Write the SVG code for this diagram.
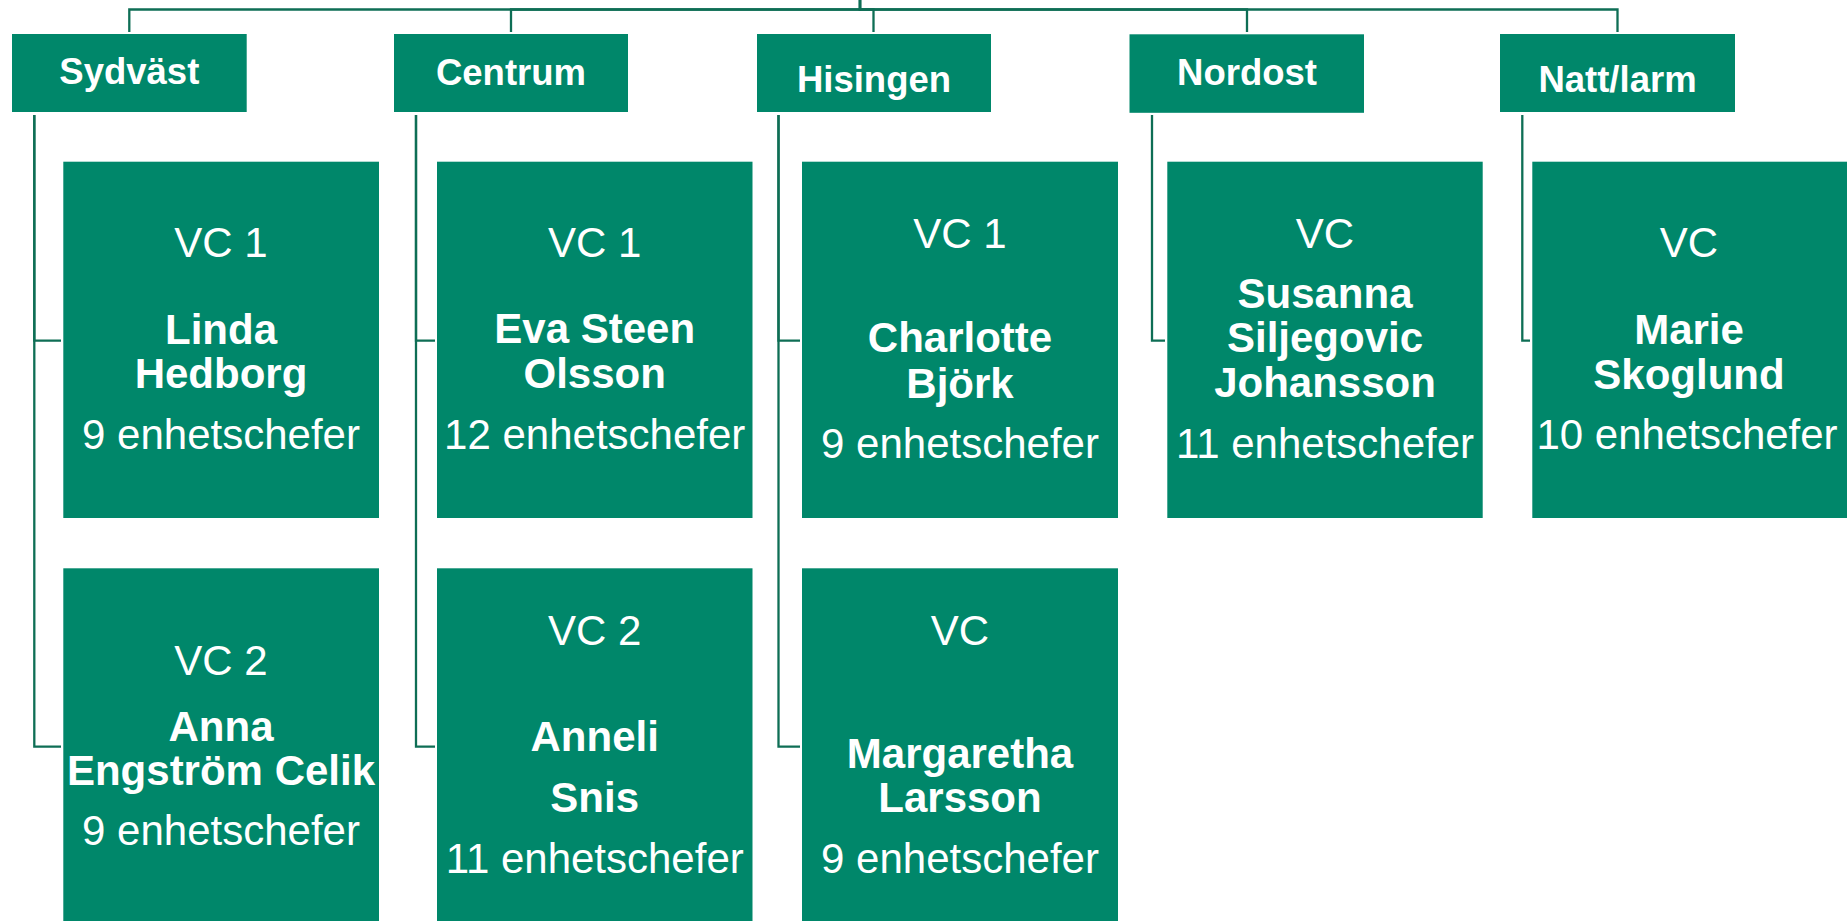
<svg xmlns="http://www.w3.org/2000/svg" width="1847" height="921" viewBox="0 0 1847 921">
<style>
.box{fill:#00876A;}
.ln{fill:none;stroke:#0E6E55;stroke-width:2.3;}
.hd{font-family:"Liberation Sans",Arial,sans-serif;font-weight:bold;font-size:36.5px;fill:#fff;text-anchor:middle;}
.rg{font-family:"Liberation Sans",Arial,sans-serif;font-size:42px;fill:#fff;text-anchor:middle;}
.bd{font-family:"Liberation Sans",Arial,sans-serif;font-weight:bold;font-size:42px;fill:#fff;text-anchor:middle;}
</style>
<rect width="1847" height="921" fill="#fff"/>
<g id="connectors">
<path class="ln" d="M860,0 V9.5 H129.3 V32"/>
<path class="ln" d="M860,0 V9.5 H511 V32"/>
<path class="ln" d="M860,0 V9.5 H873.5 V32"/>
<path class="ln" d="M860,0 V9.5 H1247 V32"/>
<path class="ln" d="M860,0 V9.5 H1617.5 V32"/>
<path class="ln" d="M34.3,115 V340.7 H61"/>
<path class="ln" d="M34.3,115 V746.7 H61"/>
<path class="ln" d="M416,115 V340.7 H435"/>
<path class="ln" d="M416,115 V746.7 H435"/>
<path class="ln" d="M778.5,115 V340.7 H800"/>
<path class="ln" d="M778.5,115 V746.7 H800"/>
<path class="ln" d="M1152,115 V340.7 H1165"/>
<path class="ln" d="M1522.3,115 V340.7 H1530"/>
</g>
<g id="sydvast">
<rect class="box" x="12" y="34" width="234.7" height="78"/>
<text class="hd" x="129.3" y="84">Sydväst</text>
</g>
<g id="centrum">
<rect class="box" x="394" y="34" width="234" height="78"/>
<text class="hd" x="511" y="85">Centrum</text>
</g>
<g id="hisingen">
<rect class="box" x="757" y="34" width="234" height="78"/>
<text class="hd" x="874" y="91.7">Hisingen</text>
</g>
<g id="nordost">
<rect class="box" x="1129.5" y="34.3" width="234.5" height="78.5"/>
<text class="hd" x="1247" y="85">Nordost</text>
</g>
<g id="nattlarm">
<rect class="box" x="1500" y="34" width="235" height="78"/>
<text class="hd" x="1617.5" y="92">Natt/larm</text>
</g>
<g id="sydvast-vc1">
<rect class="box" x="63.3" y="161.7" width="315.7" height="356.3"/>
<text class="rg" x="221" y="256.7">VC 1</text>
<text class="bd" x="221" y="344.3">Linda</text>
<text class="bd" x="221" y="388.3">Hedborg</text>
<text class="rg" x="221" y="449.3">9 enhetschefer</text>
</g>
<g id="centrum-vc1">
<rect class="box" x="437" y="161.7" width="315.5" height="356.3"/>
<text class="rg" x="594.7" y="256.7">VC 1</text>
<text class="bd" x="594.7" y="343.3">Eva Steen</text>
<text class="bd" x="594.7" y="388.3">Olsson</text>
<text class="rg" x="594.7" y="449.3">12 enhetschefer</text>
</g>
<g id="hisingen-vc1">
<rect class="box" x="802" y="161.7" width="316" height="356.3"/>
<text class="rg" x="960" y="247.7">VC 1</text>
<text class="bd" x="960" y="352.3">Charlotte</text>
<text class="bd" x="960" y="397.7">Björk</text>
<text class="rg" x="960" y="458.3">9 enhetschefer</text>
</g>
<g id="nordost-vc">
<rect class="box" x="1167.3" y="161.7" width="315.4" height="356.3"/>
<text class="rg" x="1325" y="247.7">VC</text>
<text class="bd" x="1325" y="308.3">Susanna</text>
<text class="bd" x="1325" y="351.7">Siljegovic</text>
<text class="bd" x="1325" y="396.7">Johansson</text>
<text class="rg" x="1325" y="458.3">11 enhetschefer</text>
</g>
<g id="nattlarm-vc">
<rect class="box" x="1532.3" y="161.7" width="316" height="356.3"/>
<text class="rg" x="1689" y="256.7">VC</text>
<text class="bd" x="1689" y="344.3">Marie</text>
<text class="bd" x="1689" y="389.3">Skoglund</text>
<text class="rg" x="1687" y="449.3">10 enhetschefer</text>
</g>
<g id="sydvast-vc2">
<rect class="box" x="63.3" y="568.3" width="315.7" height="360"/>
<text class="rg" x="221" y="675">VC 2</text>
<text class="bd" x="221" y="741">Anna</text>
<text class="bd" x="221" y="785">Engström Celik</text>
<text class="rg" x="221" y="845">9 enhetschefer</text>
</g>
<g id="centrum-vc2">
<rect class="box" x="437" y="568.3" width="315.5" height="360"/>
<text class="rg" x="594.7" y="645.3">VC 2</text>
<text class="bd" x="594.7" y="750.7">Anneli</text>
<text class="bd" x="594.7" y="811.7">Snis</text>
<text class="rg" x="594.7" y="873.3">11 enhetschefer</text>
</g>
<g id="hisingen-vc2">
<rect class="box" x="802" y="568.3" width="316" height="360"/>
<text class="rg" x="960" y="645.3">VC</text>
<text class="bd" x="960" y="768.3">Margaretha</text>
<text class="bd" x="960" y="811.7">Larsson</text>
<text class="rg" x="960" y="873.3">9 enhetschefer</text>
</g>
</svg>
